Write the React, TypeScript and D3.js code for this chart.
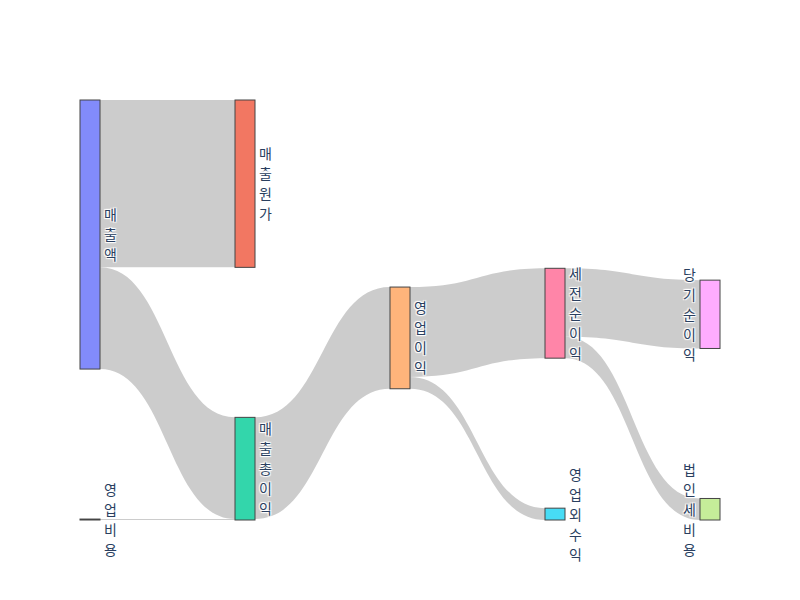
import React from 'react';
import * as d3 from 'd3';

// ---- data ----
const nodeNames: string[] = ['매출액', '매출원가', '매출총이익', '영업비용', '영업이익', '영업외수익', '세전순이익', '법인세비용', '당기순이익'];
const linkSources: string[] = ['매출액', '매출액', '영업비용', '매출총이익', '영업이익', '영업이익', '세전순이익', '세전순이익'];
const linkTargets: string[] = ['매출원가', '매출총이익', '매출총이익', '영업이익', '세전순이익', '영업외수익', '당기순이익', '법인세비용'];
const linkValues: number[] = [62.2, 37.8, 0.35, 37.8, 33.4, 4.4, 25.4, 8.0];

// ---- style ----
const palette = ['#636efa', '#EF553B', '#00cc96', '#ab63fa', '#FFA15A', '#19d3f3', '#FF6692', '#B6E880', '#FF97FF', '#FECB52'];
const WIDTH = 800;
const HEIGHT = 600;
const MARGIN = { l: 80, r: 80, t: 100, b: 80 };
const NODE_W = 20;
const NODE_PAD = 150;
const ITER = 50;
const FONT = 14;
const LINE_H = 20;

type SNode = { name: string; index: number; sourceLinks: SLink[]; targetLinks: SLink[]; value: number; depth: number; x0: number; x1: number; y0: number; y1: number };
type SLink = { source: SNode; target: SNode; value: number; width: number; y0: number; y1: number };

function layout(ext: [number, number, number, number]) {
  const [X0, Y0, X1, Y1] = ext;
  const nodes: SNode[] = nodeNames.map((name, index) => ({ name, index, sourceLinks: [], targetLinks: [], value: 0, depth: 0, x0: 0, x1: 0, y0: 0, y1: 0 }));
  const byName = new Map(nodes.map((n) => [n.name, n]));
  const links: SLink[] = linkValues.map((v, i) => ({ source: byName.get(linkSources[i])!, target: byName.get(linkTargets[i])!, value: v, width: 0, y0: 0, y1: 0 }));
  links.forEach((l) => { l.source.sourceLinks.push(l); l.target.targetLinks.push(l); });
  nodes.forEach((n) => { n.value = Math.max(d3.sum(n.sourceLinks, (l) => l.value), d3.sum(n.targetLinks, (l) => l.value)); });

  let cur: SNode[] = nodes; let x = 0;
  while (cur.length) {
    const next: SNode[] = [];
    cur.forEach((n) => { n.depth = x; n.sourceLinks.forEach((l) => { if (next.indexOf(l.target) < 0) next.push(l.target); }); });
    cur = next; x++;
  }
  const kx = (X1 - X0 - NODE_W) / (x - 1);
  nodes.forEach((n) => { n.x0 = X0 + n.depth * kx; n.x1 = n.x0 + NODE_W; });

  const columns = d3.groups(nodes, (n) => n.x0).sort((a, b) => a[0] - b[0]).map((d) => d[1]);
  const py = NODE_PAD;
  const ky = d3.min(columns, (c) => (Y1 - Y0 - (c.length - 1) * py) / d3.sum(c, (n) => n.value))!;
  columns.forEach((c) => c.forEach((n, i) => { n.y0 = i; n.y1 = i + n.value * ky; }));
  links.forEach((l) => { l.width = l.value * ky; });
  const center = (n: SNode) => (n.y0 + n.y1) / 2;

  const resolve = () => {
    columns.forEach((c) => {
      let y = Y0; const n = c.length;
      c.sort((a, b) => a.y0 - b.y0);
      let node = c[0];
      for (let i = 0; i < n; i++) {
        node = c[i];
        const dy = y - node.y0;
        if (dy > 0) { node.y0 += dy; node.y1 += dy; }
        y = node.y1 + py;
      }
      let dy = y - py - Y1;
      if (dy > 0) {
        node.y0 -= dy; node.y1 -= dy; y = node.y0;
        for (let i = n - 2; i >= 0; i--) {
          node = c[i];
          dy = node.y1 + py - y;
          if (dy > 0) { node.y0 -= dy; node.y1 -= dy; }
          y = node.y0;
        }
      }
    });
  };
  const relaxLR = (alpha: number) => {
    columns.forEach((c) => c.forEach((n) => {
      if (n.targetLinks.length) {
        const dy = (d3.sum(n.targetLinks, (l) => center(l.source) * l.value) / d3.sum(n.targetLinks, (l) => l.value) - center(n)) * alpha;
        n.y0 += dy; n.y1 += dy;
      }
    }));
  };
  const relaxRL = (alpha: number) => {
    columns.slice().reverse().forEach((c) => c.forEach((n) => {
      if (n.sourceLinks.length) {
        const dy = (d3.sum(n.sourceLinks, (l) => center(l.target) * l.value) / d3.sum(n.sourceLinks, (l) => l.value) - center(n)) * alpha;
        n.y0 += dy; n.y1 += dy;
      }
    }));
  };
  resolve();
  let alpha = 1;
  for (let k = ITER; k > 0; k--) {
    alpha *= 0.99;
    relaxRL(alpha); resolve();
    relaxLR(alpha); resolve();
  }
  nodes.forEach((n) => {
    n.sourceLinks.sort((a, b) => a.target.y0 - b.target.y0);
    n.targetLinks.sort((a, b) => a.source.y0 - b.source.y0);
  });
  nodes.forEach((n) => {
    let a = n.y0, b = n.y0;
    n.sourceLinks.forEach((l) => { l.y0 = a + l.width / 2; a += l.width; });
    n.targetLinks.forEach((l) => { l.y1 = b + l.width / 2; b += l.width; });
  });
  return { nodes, links, maxDepth: x - 1 };
}

function linkPath(l: SLink) {
  const x0 = l.source.x1, x1 = l.target.x0;
  const xi = d3.interpolateNumber(x0, x1);
  const x2 = xi(0.5), x3 = xi(0.5);
  const w = Math.max(l.width, 0.9);
  const y0a = l.y0 - w / 2, y0b = l.y0 + w / 2, y1a = l.y1 - w / 2, y1b = l.y1 + w / 2;
  return `M${x0},${y0a}C${x2},${y0a} ${x3},${y1a} ${x1},${y1a}L${x1},${y1b}C${x3},${y1b} ${x2},${y0b} ${x0},${y0b}Z`;
}

function fade(c: string) {
  const rgb = d3.rgb(c);
  const w = d3.rgb('#ffffff');
  return d3.rgb(rgb.r * 0.8 + w.r * 0.2, rgb.g * 0.8 + w.g * 0.2, rgb.b * 0.8 + w.b * 0.2).formatHex();
}

export default function App() {
  const { nodes, links, maxDepth } = layout([MARGIN.l, MARGIN.t, WIDTH - MARGIN.r, HEIGHT - MARGIN.b]);
  const textShadow = '1px 1px 1px #fff, -1px -1px 1px #fff, 1px -1px 1px #fff, -1px 1px 1px #fff';
  return (
    <svg width={WIDTH} height={HEIGHT} style={{ position: 'absolute', left: 0, top: 0, background: '#fff' }}
      fontFamily={'"Open Sans", "Noto Sans CJK KR", sans-serif'}>
      <rect width={WIDTH} height={HEIGHT} fill="#fff" />
      <g>
        {links.map((l, i) => (
          <path key={i} d={linkPath(l)} fill="rgba(0,0,0,0.2)" stroke="none" />
        ))}
      </g>
      <g>
        {nodes.map((n) => (
          <rect key={n.name} x={n.x0} y={n.y0} width={n.x1 - n.x0} height={Math.max(n.y1 - n.y0, 0)}
            fill={fade(palette[n.index % palette.length])} stroke="#444" strokeWidth={1} />
        ))}
      </g>
      <g>
        {nodes.map((n) => {
          const chars = Array.from(n.name);
          const right = n.depth === maxDepth;
          const cx = right ? n.x0 - 4 : n.x1 + 4;
          const cy = (n.y0 + n.y1) / 2;
          return (
            <text key={n.name} x={cx} fontSize={FONT} fill="#2a3f5f" textAnchor={right ? 'end' : 'start'}
              style={{ textShadow }}>
              {chars.map((ch, i) => (
                <tspan key={i} x={cx} y={cy + (i - (chars.length - 1) / 2) * LINE_H} dominantBaseline="central">{ch}</tspan>
              ))}
            </text>
          );
        })}
      </g>
    </svg>
  );
}
